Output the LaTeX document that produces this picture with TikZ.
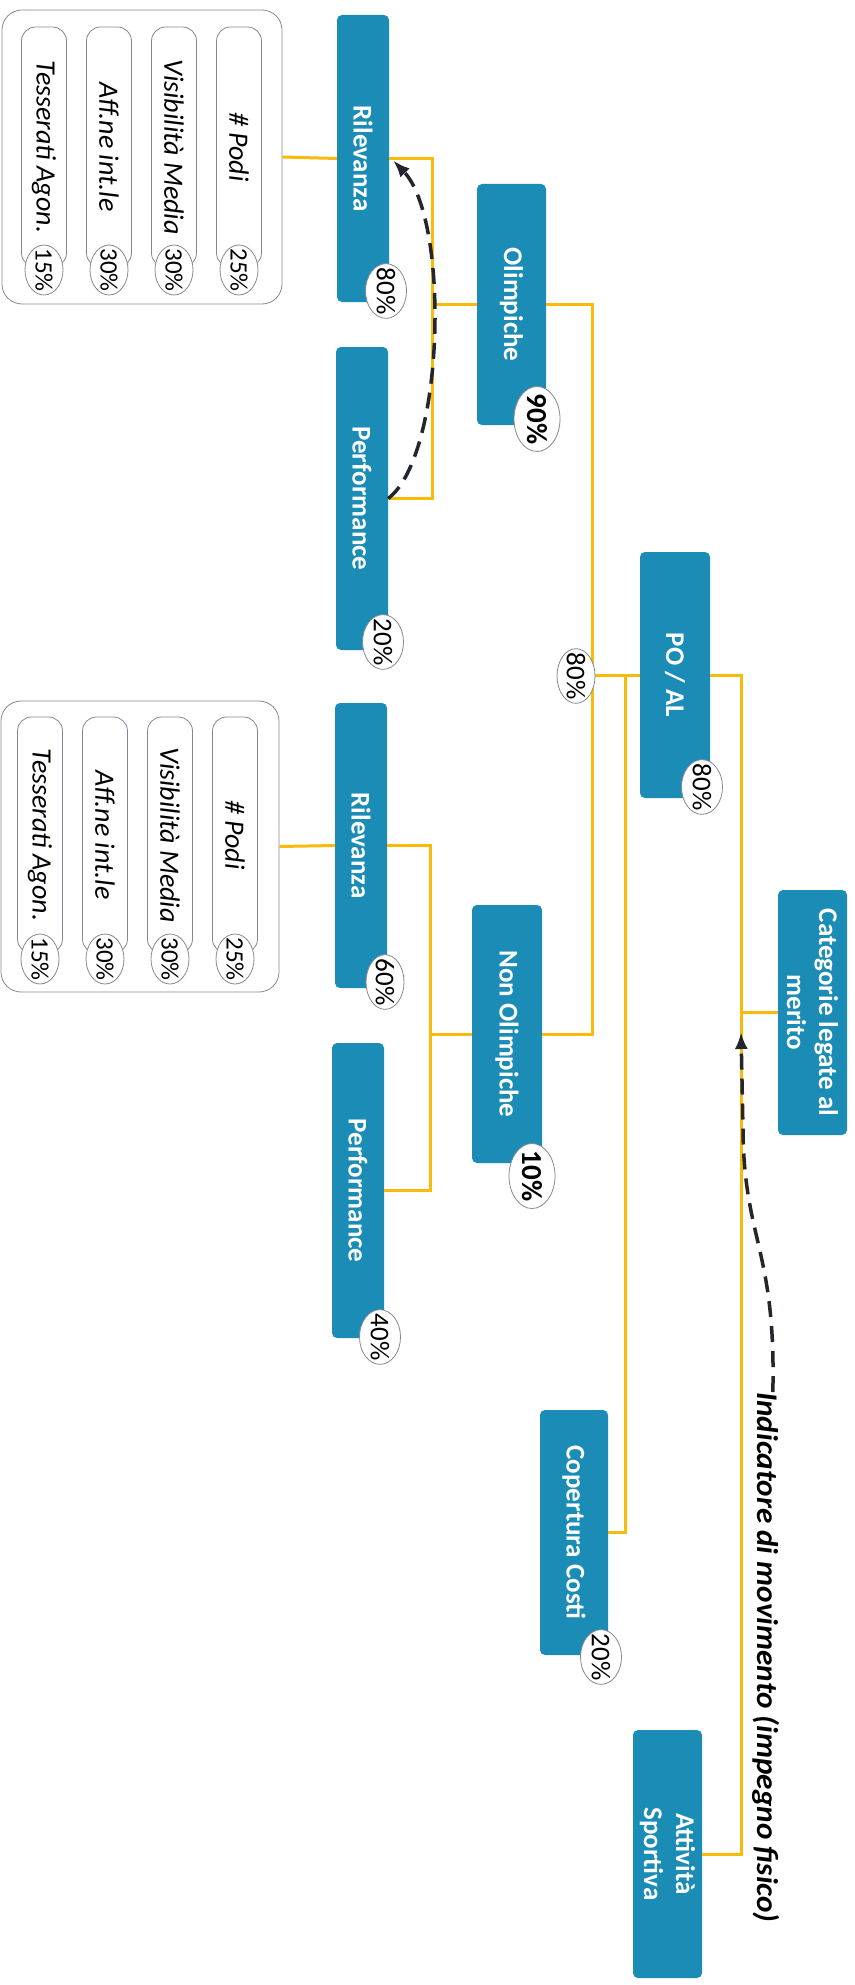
\documentclass[tikz,border=0pt]{standalone}
\usepackage{fontspec}
\setmainfont{Carlito}
\newfontfamily\notefont[FakeStretch=1.04]{Carlito}
\usetikzlibrary{shapes.geometric,arrows.meta}
\definecolor{boxblue}{RGB}{27,140,182}
\definecolor{linkyel}{RGB}{250,186,10}
\definecolor{rimgray}{RGB}{135,135,148}
\definecolor{arrowdk}{RGB}{35,38,45}
\tikzset{
  blk/.style={rotate=-90, fill=boxblue, text=white, rounded corners=5pt, inner sep=0pt, align=center, font=\bfseries\fontsize{27}{32}\selectfont},
  pct/.style={ellipse, rotate=-90, draw=rimgray, line width=0.8pt, fill=white, inner xsep=-4pt, inner ysep=0pt, minimum width=53pt, minimum height=41pt, font=\fontsize{27}{30}\selectfont},
  spct/.style={pct, minimum width=50pt, minimum height=38pt, font=\fontsize{25}{28}\selectfont},
  bpct/.style={pct, minimum width=65pt, minimum height=46pt, font=\bfseries\fontsize{29}{32}\selectfont},
  pill/.style={rotate=-90, draw=rimgray, line width=0.8pt, rounded corners=14pt, inner sep=0pt, minimum height=45pt, font=\itshape\fontsize{28}{31}\selectfont},
  grp/.style={draw=rimgray, line width=0.8pt, rounded corners=20pt, inner sep=0pt},
  link/.style={draw=linkyel, line width=3pt},
  move/.style={draw=arrowdk, line width=3.5pt, dash pattern=on 16pt off 9pt, -{Latex[length=17pt,width=13pt]}},
}
\begin{document}
\begin{tikzpicture}[x=1pt,y=-1pt]
\useasboundingbox (0,0) rectangle (854,1985);
\fill[white] (0,0) rectangle (854,1985);

% indicator groups
\node[grp, minimum width=280pt, minimum height=294pt] (grp1) at (142,157) {};
\node[grp, minimum width=278pt, minimum height=291pt] (grp2) at (140,846.5) {};
\foreach \t/\p [count=\i] in {Tesserati Agon./15, Aff.ne int.le/30, Visibilità Media/30, \# Podi/25} {
  \node[pill, minimum width=240pt] (pa\i) at ({44+65*(\i-1)},147) {\t};
  \node[spct] (qa\i) at ({44+65*(\i-1)},270) {\p\%};
  \node[pill, minimum width=236pt] (pb\i) at ({40+65*(\i-1)},835) {\t};
  \node[spct] (qb\i) at ({40+65*(\i-1)},959) {\p\%};
}

% tree boxes
\node[blk, minimum width=287pt, minimum height=52pt] (ril1) at (363,158.5) {Rilevanza};
\node[blk, minimum width=303pt, minimum height=52pt] (perf1) at (362,498.5) {Performance};
\node[blk, minimum width=241pt, minimum height=69pt] (olim) at (511.5,304.5) {Olimpiche};
\node[blk, minimum width=285pt, minimum height=52pt] (ril2) at (361,845.5) {Rilevanza};
\node[blk, minimum width=295pt, minimum height=52pt] (perf2) at (358,1190.5) {Performance};
\node[blk, minimum width=258pt, minimum height=70pt] (nonol) at (507,1034) {Non Olimpiche};
\node[blk, minimum width=246pt, minimum height=70pt] (poal) at (675,675) {PO / AL};
\node[blk, minimum width=245pt, minimum height=69pt] (cat) at (812.5,1012.5) {Categorie legate al\\merito};
\node[blk, minimum width=245pt, minimum height=68pt] (cop) at (574,1532.5) {Copertura Costi};
\node[blk, minimum width=248pt, minimum height=69pt] (att) at (667.5,1854) {Attività\\Sportiva};

% connectors
\coordinate (b1) at (432,0);
\coordinate (b2) at (592,0);
\coordinate (b3) at (625,0);
\coordinate (b4) at (741,0);
\coordinate (b5) at (430,0);
\draw[link] (grp1.east) -- (ril1.south);
\draw[link] (ril1.north) -| (b1 |- perf1.north) -- (perf1.north);
\draw[link] (olim.south) -- (olim.south -| b1);
\draw[link] (grp2.east) -- (ril2.south);
\draw[link] (ril2.north) -| (b5 |- perf2.north) -- (perf2.north);
\draw[link] (nonol.south) -- (nonol.south -| b5);
\draw[link] (olim.north) -| (b2 |- nonol.north) -- (nonol.north);
\draw[link] (poal.south) -- (poal.south -| b2);
\draw[link] (poal.south -| b3) |- (cop.north);
\draw[link] (poal.north) -| (b4 |- att.north) -- (att.north);
\draw[link] (cat.south) -- (cat.south -| b4);

% weights
\node[pct] (q1) at (386,291) {80\%};
\node[pct] (q2) at (383,642) {20\%};
\node[bpct] (q3) at (537,419) {90\%};
\node[pct, minimum height=38pt] (q4) at (385,982) {60\%};
\node[pct] (q5) at (380,1337) {40\%};
\node[bpct] (q6) at (532,1176) {10\%};
\node[pct, minimum height=38pt] (q7) at (576,676) {80\%};
\node[pct] (q8) at (702,787) {80\%};
\node[pct] (q9) at (601,1657) {20\%};

% dashed arrows
\node[rotate=-90, anchor=west, inner sep=0pt, font=\notefont\bfseries\itshape\fontsize{30}{33}\selectfont] (lbl) at (766,1392) {Indicatore di movimento (impegno fisico)};
\coordinate (tip2) at (741,1032);
\draw[move] (perf1.north) .. controls (445,455) and (450,220) .. ([xshift=4pt,yshift=-2pt]ril1.north);
\draw[move] ([xshift=-7pt]lbl.north west) .. controls (776,1250) and (744,1240) .. (743,1130) -- (tip2);
\end{tikzpicture}
\end{document}
